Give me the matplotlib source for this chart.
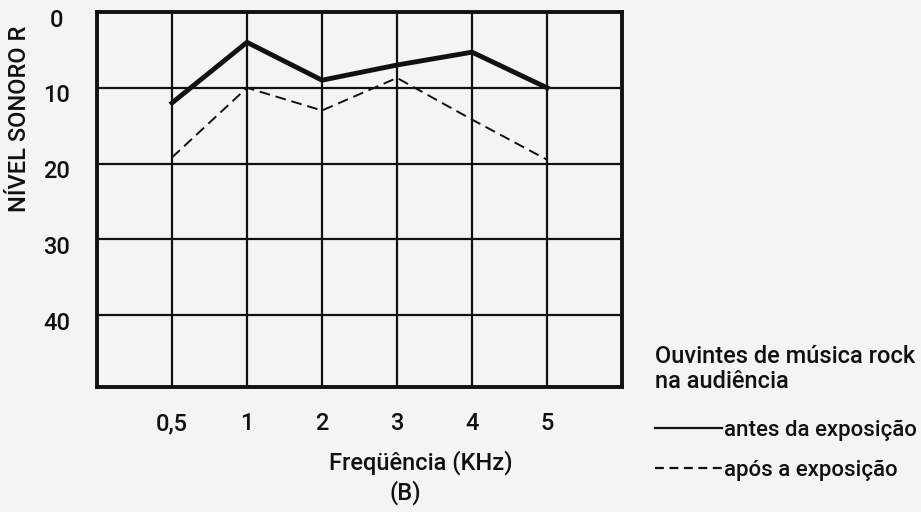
import matplotlib.pyplot as plt
import matplotlib.transforms as mtransforms
from matplotlib.lines import Line2D

# frequencies (kHz) and relative sound level (dB)
freq_labels = ['0,5', '1', '2', '3', '4', '5']
antes = [12, 4, 9, 7, 5.3, 10]
apos = [19.2, 10, 13, 8.7, 14.2, 19.5]
y_ticks = [0, 10, 20, 30, 40]

plt.rcParams['font.family'] = ['Roboto', 'DejaVu Sans']
plt.rcParams['font.weight'] = 'medium'
paper = '#f4f4f2'
ink = '#111111'
fs = 17

fig = plt.figure(figsize=(9.21, 5.12), dpi=100, facecolor=paper)
ax = fig.add_axes([97 / 921, 1 - 387 / 512, 525 / 921, 375 / 512])
ax.set_facecolor(paper)

x = list(range(1, len(freq_labels) + 1))
ax.plot(x, antes, color=ink, lw=3.5, solid_joinstyle='miter', zorder=3)
ax.plot(x, apos, color=ink, lw=1.4, dashes=(5.5, 3), zorder=3)

ax.set_xlim(0, 7)
ax.set_ylim(49.5, 0)
ax.set_xticks(x)
ax.set_xticklabels(freq_labels)
ax.set_yticks(y_ticks)
ax.set_yticklabels([str(v) for v in y_ticks])
ax.tick_params(length=0, labelsize=fs, colors=ink)
ax.tick_params(axis='x', pad=18)
ax.tick_params(axis='y', pad=29)
# y labels sit centred under their column, a touch below the grid line
shift = mtransforms.ScaledTranslation(0, -4 / 72, fig.dpi_scale_trans)
for lab in ax.get_yticklabels():
    lab.set_horizontalalignment('center')
    lab.set_transform(lab.get_transform() + shift)
ax.grid(True, color=ink, lw=1.6)
for s in ax.spines.values():
    s.set_linewidth(2.8)
    s.set_color(ink)

fig.text(20 / 921, 1 - 212 / 512, 'NÍVEL SONORO R', rotation=90,
         ha='center', va='bottom', fontsize=fs, color=ink)
fig.text(421 / 921, 1 - 463 / 512, 'Freqüência (KHz)', ha='center',
         va='center', fontsize=fs, color=ink)
fig.text(405 / 921, 1 - 493 / 512, '(B)', ha='center', va='center',
         fontsize=fs, color=ink)

# legend: heading above, then the two line samples
fig.text(655 / 921, 1 - 369 / 512, 'Ouvintes de música rock\nna audiência',
         ha='left', va='center', fontsize=fs, color=ink, linespacing=1.15)
handles = [Line2D([], [], color=ink, lw=1.6),
           Line2D([], [], color=ink, lw=1.6, dashes=(4, 2.5))]
leg = fig.legend(handles, ['antes da exposição', 'após a exposição'],
                 loc='upper left', bbox_to_anchor=(655 / 921, 1 - 420 / 512),
                 frameon=False, fontsize=16, handlelength=3.0,
                 handletextpad=0.1, labelspacing=0.85, borderpad=0,
                 borderaxespad=0)
for t in leg.get_texts():
    t.set_color(ink)

fig.savefig('out.png', dpi=100, facecolor=paper)
